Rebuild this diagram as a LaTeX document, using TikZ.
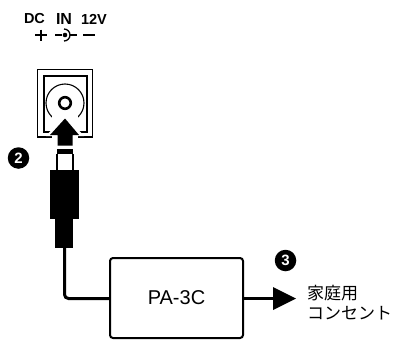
\documentclass[tikz,border=0pt]{standalone}
\usepackage{fontspec}
\setmainfont{Liberation Sans}
\newfontfamily\cjk{Noto Sans CJK JP}
\begin{document}
\begin{tikzpicture}[x=1pt,y=-1pt,
  lbl/.style={inner sep=0pt,font=\fontsize{14.5}{15}\selectfont\bfseries},
  badge/.style={circle,fill=black,inner sep=0pt,minimum size=21.5pt,text=white,font=\fontsize{15}{15}\selectfont\bfseries},
  wire/.style={line width=3pt,rounded corners=4pt},
  txt/.style={inner sep=0pt,anchor=west,font=\cjk\fontsize{17}{18}\selectfont}]
\useasboundingbox (0,0) rectangle (395,340);
\node[lbl] (dc) at (34.5,19) {DC};
\node[lbl,font=\fontsize{16}{16}\selectfont\bfseries] (in) at (64,19) {IN};
\node[lbl] (v) at (94,19) {12V};
\draw[line width=1.3pt] (35,35) -- (47,35) (41,29.5) -- (41,40.5);
\draw[line width=1.3pt] (83,35) -- (95,35);
\draw[line width=1.3pt] (55,35) -- (62,35) (70,35) -- (77,35);
\draw[line width=1.3pt] (64,29) arc (-90:90:6);
\fill (65,35) circle (2.3pt);
\draw[line width=1.1pt] (37.5,69.5) rectangle (92.5,137);
\draw[line width=2pt] (43.5,76) rectangle (87,131.5);
\draw[line width=1.1pt] (65,103) circle (19);
\draw[line width=2.6pt] (65,103) circle (5.8);
\fill[white] (52,116) rectangle (78,147);
\fill[white] (65,115) -- (46,136) -- (84,136) -- cycle;
\fill (65,118.5) -- (50,135) -- (57.5,135) -- (57.5,145.5) -- (72.5,145.5) -- (72.5,135) -- (79,135) -- cycle;
\fill (57,148.5) rectangle (73,154);
\draw[line width=1.1pt] (57,154) -- (57,170) (73,154) -- (73,170);
\fill (50,170) rectangle (79,219);
\fill (55,219) rectangle (73,248);
\node[draw,line width=2pt,rounded corners=3pt,minimum width=133pt,minimum height=80pt,inner sep=0pt,font=\fontsize{20}{20}\selectfont] (box) at (176.5,298) {PA-3C};
\coordinate (plug) at (64.5,248);
\draw[wire] (plug) -- (64.5,298.5) -- (box.west |- 0,298.5);
\coordinate (tip) at (296,298.5);
\draw[line width=3pt] (box.east |- tip) -- (276,298.5);
\fill (273,287) -- (tip) -- (273,310) -- cycle;
\node[badge] (b2) at (18.5,158) {2};
\node[badge] (b3) at (285.5,260.5) {3};
\node[txt] at (307,293) {家庭用};
\node[txt] at (307,313) {コンセント};
\end{tikzpicture}
\end{document}
